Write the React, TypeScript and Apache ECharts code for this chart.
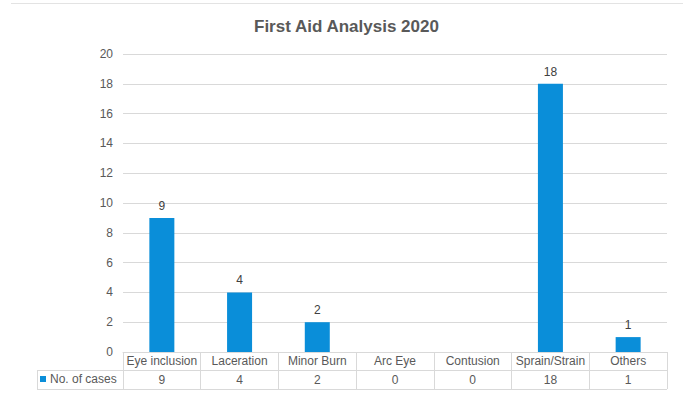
import React, { useEffect, useRef } from "react";
import * as echarts from "echarts";

const categories = ["Eye inclusion", "Laceration", "Minor Burn", "Arc Eye", "Contusion", "Sprain/Strain", "Others"];
const cases = [9, 4, 2, 0, 0, 18, 1];
const seriesName = "No. of cases";
const titleText = "First Aid Analysis 2020";
const yMin = 0;
const yMax = 20;
const yStep = 2;

const FONT = "'Liberation Sans', Arial, sans-serif";
const GRID_LINE = "#d9d9d9";
const TEXT = "#595959";
const BAR = "#0a8ed9";

export default function App() {
  const ref = useRef<HTMLDivElement>(null);
  useEffect(() => {
    document.body.style.margin = "0";
    const chart = echarts.init(ref.current!, null, { renderer: "svg" });
    chart.setOption({
      animation: false,
      backgroundColor: "#ffffff",
      textStyle: { fontFamily: FONT },
      title: {
        text: titleText,
        left: 254,
        top: 18,
        padding: 0,
        textStyle: { fontFamily: FONT, fontSize: 17, fontWeight: "bold", color: TEXT },
      },
      legend: {
        data: [seriesName],
        left: 40,
        top: 373,
        padding: 0,
        itemWidth: 6,
        itemHeight: 6,
        icon: "rect",
        selectedMode: false,
        textStyle: { fontFamily: FONT, fontSize: 12, color: TEXT, padding: [0, 0, 0, -1] },
      },
      grid: { left: 123, right: 16, top: 54, bottom: 42, containLabel: false },
      xAxis: [
        {
          type: "category",
          data: categories,
          position: "bottom",
          axisLine: { show: true, lineStyle: { color: GRID_LINE, width: 1 } },
          axisTick: { show: true, length: 37, interval: 0, lineStyle: { color: GRID_LINE, width: 1 } },
          axisLabel: { interval: 0, margin: 3, fontSize: 12, color: TEXT, fontFamily: FONT },
          splitLine: { show: false },
        },
        {
          type: "category",
          data: cases.map((v) => String(v)),
          position: "bottom",
          offset: 18,
          axisLine: { show: true, lineStyle: { color: GRID_LINE, width: 1 } },
          axisTick: { show: false },
          axisLabel: { interval: 0, margin: 4, fontSize: 12, color: TEXT, fontFamily: FONT },
          splitLine: { show: false },
        },
      ],
      yAxis: {
        type: "value",
        min: yMin,
        max: yMax,
        interval: yStep,
        axisLine: { show: false },
        axisTick: { show: false },
        axisLabel: { margin: 10, fontSize: 12, color: TEXT, fontFamily: FONT },
        splitLine: { show: true, lineStyle: { color: GRID_LINE, width: 1 } },
      },
      series: [
        {
          name: seriesName,
          type: "bar",
          xAxisIndex: 0,
          data: cases,
          barWidth: 25,
          itemStyle: { color: BAR },
          label: {
            show: true,
            position: "top",
            distance: 6,
            fontSize: 12,
            color: "#404040",
            fontFamily: FONT,
            formatter: (p: any) => (p.value === 0 ? "" : String(p.value)),
          },
        },
      ],
      graphic: [
        { type: "line", shape: { x1: 11, y1: 3.5, x2: 683, y2: 3.5 }, style: { stroke: "#e3e3e3", lineWidth: 1 } },
        { type: "line", shape: { x1: 37, y1: 370.5, x2: 123, y2: 370.5 }, style: { stroke: GRID_LINE, lineWidth: 1 } },
        { type: "line", shape: { x1: 37, y1: 389.5, x2: 667, y2: 389.5 }, style: { stroke: GRID_LINE, lineWidth: 1 } },
        { type: "line", shape: { x1: 37.5, y1: 370, x2: 37.5, y2: 390 }, style: { stroke: GRID_LINE, lineWidth: 1 } },
      ],
    });
    return () => chart.dispose();
  }, []);
  return <div ref={ref} style={{ width: 683, height: 394 }} />;
}
